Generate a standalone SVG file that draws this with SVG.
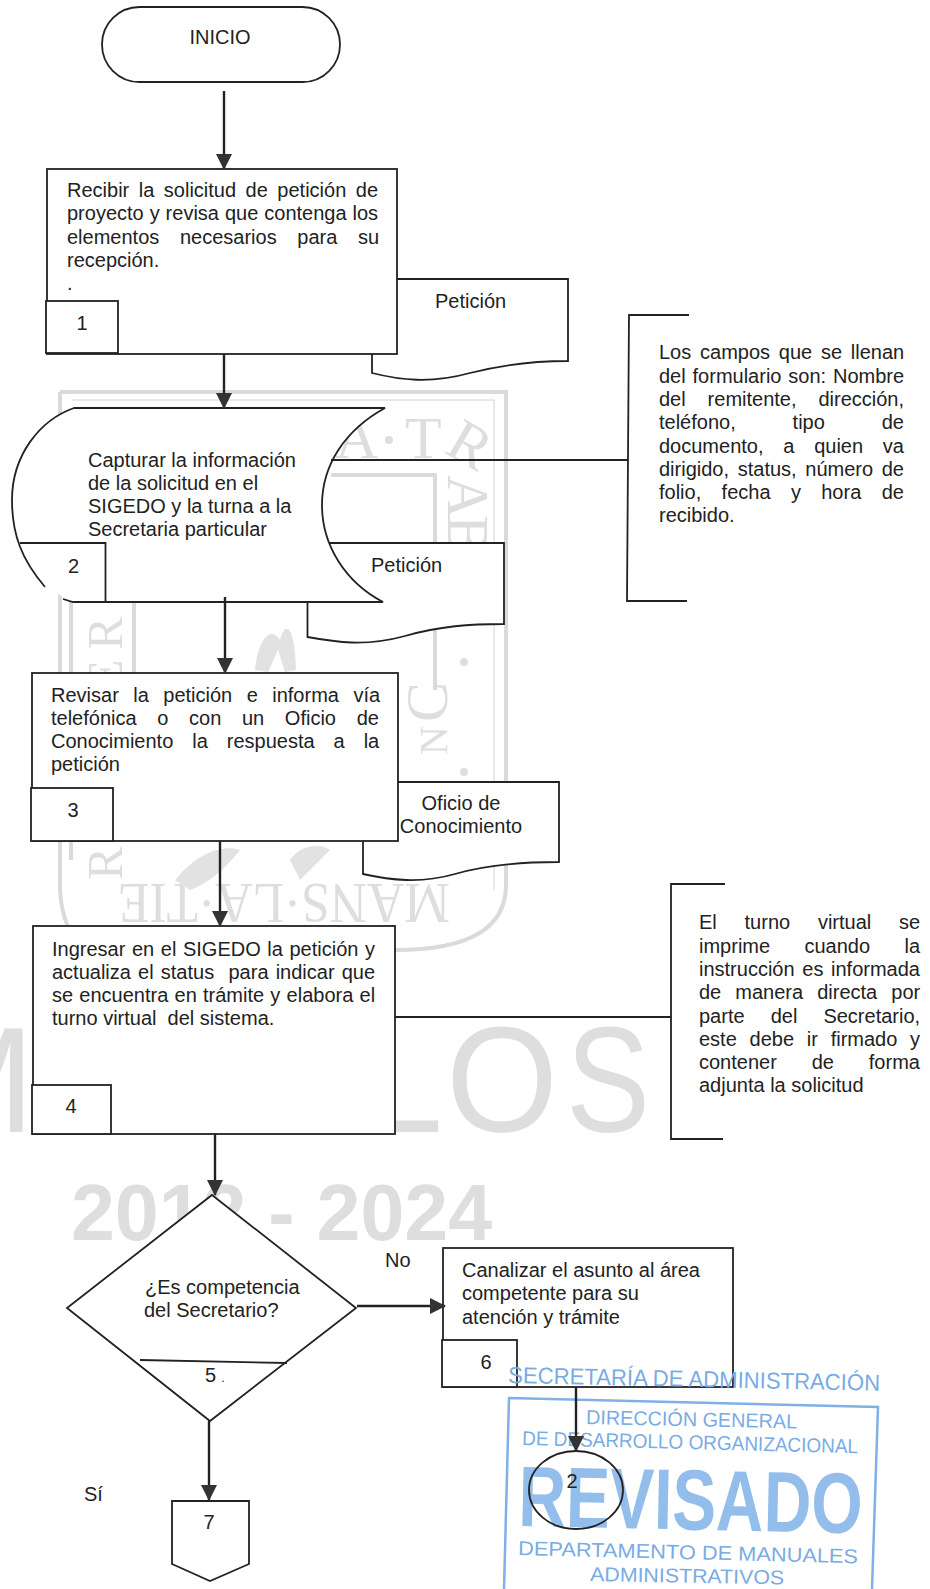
<svg xmlns="http://www.w3.org/2000/svg" width="930" height="1589" viewBox="0 0 930 1589">
<style>
text{font-family:"Liberation Sans",Arial,sans-serif;font-size:20px;fill:#222}
.s{fill:#fff;stroke:#222;stroke-width:1.8}
.n{fill:none;stroke:#222;stroke-width:1.8}
.c{fill:none;stroke:#222;stroke-width:2.4}
.m{text-anchor:middle}
text.wm{fill:#dedede;font-family:"Liberation Serif",serif;font-size:60px}
text.big{fill:#dedede;font-size:150px}
.fr{fill:none;stroke:#dadada;stroke-width:4}
.fp{fill:none;stroke:#e2e2e2;stroke-width:1.5}
text.st{fill:#79ace4;font-size:22px}
.sf{fill:none;stroke:#7fb0e6;stroke-width:2.5}
</style>
<defs>
<marker id="a" markerUnits="userSpaceOnUse" markerWidth="16" markerHeight="18" refX="15" refY="8" orient="auto"><path d="M0,0 L16,8 L0,16 Z" fill="#333"/></marker>
</defs>
<rect width="930" height="1589" fill="#fff"/>
<g id="watermark">
<path class="fr" d="M60,392 H506 V885 Q506,950 395,950"/>
<path class="fr" d="M60,392 V890 Q62,930 85,950"/>
<path class="fp" d="M72,400 H494 V890"/>
<path class="fr" d="M331,475 H435 V690"/>
<path class="fr" d="M134,602 V680"/>
<path class="fr" d="M71,602 V860"/>
<text class="wm" x="335" y="458">A</text>
<text class="wm" x="405" y="458">T</text>
<circle cx="389" cy="440" r="4" fill="#dedede"/>
<text class="wm" transform="translate(443,452) rotate(30)">R</text>
<text class="wm" transform="translate(448,475) rotate(90)">A</text>
<text class="wm" transform="translate(448,515) rotate(90)">B</text>
<text class="wm" transform="translate(445,625) rotate(-90)" style="font-size:40px">A</text>
<circle cx="464" cy="662" r="4" fill="#dedede"/>
<text class="wm" transform="translate(447,722) rotate(-90)">C</text>
<text class="wm" transform="translate(447,755) rotate(-90)" style="font-size:40px">N</text>
<circle cx="464" cy="772" r="4" fill="#dedede"/>
<text class="wm" transform="translate(122,650) rotate(-90)" style="font-size:50px">R</text>
<text class="wm" transform="translate(122,690) rotate(-90)" style="font-size:50px">E</text>
<text class="wm" transform="translate(122,880) rotate(-90)" style="font-size:50px">R</text>
<text class="wm" transform="translate(450,884) rotate(180)" textLength="332" lengthAdjust="spacingAndGlyphs" style="font-size:56px">MANS·LA·TIE</text>
<path fill="#e2e2e2" d="M255,670 C258,640 270,625 280,640 C285,620 295,625 296,670 L285,672 L278,650 L268,672 Z M175,880 C200,850 225,845 240,850 C225,870 205,885 190,890 Z M290,860 C300,845 320,842 330,850 L300,880 Z"/>
<text class="big" x="-90" y="1132" textLength="533" lengthAdjust="spacingAndGlyphs">MOREL</text>
<text class="big" x="446" y="1132" textLength="112" lengthAdjust="spacingAndGlyphs">O</text>
<text class="big" x="566" y="1132" textLength="84" lengthAdjust="spacingAndGlyphs">S</text>
<text class="big" x="71" y="1240" textLength="421" lengthAdjust="spacingAndGlyphs" style="font-size:80px;font-weight:bold">2012 - 2024</text>
</g>
<g id="doc-peticion-1">
<path class="s" d="M372,350 V373 C400,380 430,384 470,373 C505,364 535,361 568,361 V279 H390"/>
<text x="435" y="308">Petición</text>
</g>
<g id="node-inicio">
<rect class="s" x="102" y="7" width="238" height="75" rx="37.5"/>
<text class="m" x="220" y="44">INICIO</text>
</g>
<g id="node-1">
<rect class="s" x="47" y="169" width="350" height="185"/>
<rect class="s" x="46" y="301" width="72" height="52"/>
<text x="67" y="197" word-spacing="3.96">Recibir la solicitud de petición de</text>
<text x="67" y="220" word-spacing="0.4">proyecto y revisa que contenga los</text>
<text x="67" y="243.5" word-spacing="15.1">elementos necesarios para su</text>
<text x="67" y="266.5">recepción.</text>
<text x="67" y="290">.</text>
<text class="m" x="82" y="330">1</text>
</g>
<g id="doc-peticion-2">
<path class="s" d="M307.5,598 V637 C335,642 365,647 405,636 C440,626 470,624 504,624 V543 H320"/>
<text x="371" y="572">Petición</text>
</g>
<g id="node-2">
<path fill="#fff" stroke="none" d="M74,408 H383 C345,430 322,465 322,505 C322,545 345,582 383,602 H73 L45,587 C22,560 12,535 12,500 C12,455 40,420 74,408 Z"/>
<path class="n" d="M45,587 C22,560 12,535 12,500 C12,455 40,420 74,408 H385 C345,430 322,465 322,505 C322,545 345,582 383,602 H73 L63,599"/>
<path class="n" d="M20,543 H105.5 V602"/>
<text x="88" y="467">Capturar la información</text>
<text x="88" y="490">de la solicitud en el</text>
<text x="88" y="513">SIGEDO y la turna a la</text>
<text x="88" y="536">Secretaria particular</text>
<text class="m" x="73.5" y="573">2</text>
</g>
<g id="doc-oficio">
<path class="s" d="M363,838 V874 C390,880 420,884 455,874 C490,864 525,862 559,862 V782 H385"/>
<text class="m" x="461" y="810">Oficio de</text>
<text class="m" x="461" y="833">Conocimiento</text>
</g>
<g id="node-3">
<rect class="s" x="32" y="673" width="366" height="168"/>
<rect class="s" x="31" y="788" width="82" height="53"/>
<text x="51" y="702" word-spacing="8.9">Revisar la petición e informa vía</text>
<text x="51" y="725" word-spacing="15.1">telefónica o con un Oficio de</text>
<text x="51" y="748" word-spacing="13.4">Conocimiento la respuesta a la</text>
<text x="51" y="771">petición</text>
<text class="m" x="73" y="817">3</text>
</g>
<g id="node-4">
<rect class="s" x="33" y="926" width="362" height="208"/>
<rect class="s" x="32" y="1085" width="79" height="49"/>
<text x="52" y="956" word-spacing="1.03">Ingresar en el SIGEDO la petición y</text>
<text x="52" y="979" word-spacing="1.6" xml:space="preserve">actualiza el status  para indicar que</text>
<text x="52" y="1002" word-spacing="0.67">se encuentra en trámite y elabora el</text>
<text x="52" y="1025" xml:space="preserve">turno virtual  del sistema.</text>
<text class="m" x="71" y="1113">4</text>
</g>
<g id="note-1">
<path class="n" d="M689,315 H629 L627,601 H687"/>
<text x="659" y="359" word-spacing="3.2">Los campos que se llenan</text>
<text x="659" y="383" word-spacing="1.3">del formulario son: Nombre</text>
<text x="659" y="406" word-spacing="16.35">del remitente, dirección,</text>
<text x="659" y="429" word-spacing="51.3">teléfono, tipo de</text>
<text x="659" y="453" word-spacing="14.2">documento, a quien va</text>
<text x="659" y="476" word-spacing="3.1">dirigido, status, número de</text>
<text x="659" y="499" word-spacing="14.8">folio, fecha y hora de</text>
<text x="659" y="522">recibido.</text>
</g>
<g id="note-2">
<path class="n" d="M725,884 H671 V1139 H723"/>
<text x="699" y="929" word-spacing="22.2">El turno virtual se</text>
<text x="699" y="953" word-spacing="28.8">imprime cuando la</text>
<text x="699" y="976" word-spacing="2.1">instrucción es informada</text>
<text x="699" y="999" word-spacing="8.5">de manera directa por</text>
<text x="699" y="1023" word-spacing="20.5">parte del Secretario,</text>
<text x="699" y="1046" word-spacing="7.2">este debe ir firmado y</text>
<text x="699" y="1069" word-spacing="29.3">contener de forma</text>
<text x="699" y="1092">adjunta la solicitud</text>
</g>
<g id="node-5">
<path class="s" d="M212,1195 L356,1308 L210,1421 L67,1308 Z"/>
<path class="n" d="M140,1360 L287,1363"/>
<text x="145" y="1294">¿Es competencia</text>
<text x="144" y="1317">del Secretario?</text>
<text x="205" y="1382">5<tspan dx="5" style="font-size:12px">.</tspan></text>
</g>
<g id="node-6">
<rect class="s" x="443" y="1248" width="290" height="139"/>
<rect class="s" x="442" y="1340" width="75" height="47"/>
<text x="462" y="1277">Canalizar el asunto al área</text>
<text x="462" y="1300">competente para su</text>
<text x="462" y="1324">atención y trámite</text>
<text class="m" x="486" y="1369">6</text>
</g>
<g id="stamp">
<path class="sf" d="M504,1589 L509,1398 L878,1407 L872,1589"/>
<text class="st" transform="translate(508,1383) rotate(1.2)" textLength="372" lengthAdjust="spacingAndGlyphs" style="font-size:23px">SECRETARÍA DE ADMINISTRACIÓN</text>
<text class="st" transform="translate(586,1424) rotate(1.2)" textLength="211" lengthAdjust="spacingAndGlyphs" style="font-size:20px">DIRECCIÓN GENERAL</text>
<text class="st" transform="translate(522,1445) rotate(1.4)" textLength="336" lengthAdjust="spacingAndGlyphs" style="font-size:20px">DE DESARROLLO ORGANIZACIONAL</text>
<text class="st" transform="translate(518,1526) rotate(1.2)" textLength="344" lengthAdjust="spacingAndGlyphs" style="font-size:86px;font-weight:bold;fill:#93bdea">REVISADO</text>
<text class="st" transform="translate(518,1555) rotate(1.4)" textLength="340" lengthAdjust="spacingAndGlyphs" style="font-size:20px">DEPARTAMENTO DE MANUALES</text>
<text class="st" transform="translate(590,1581) rotate(1)" textLength="194" lengthAdjust="spacingAndGlyphs" style="font-size:20px">ADMINISTRATIVOS</text>
</g>
<g id="node-connector-2">
<ellipse class="n" cx="576" cy="1490" rx="47" ry="39"/>
<text class="m" x="572" y="1488">2</text>
</g>
<g id="node-7">
<path class="s" d="M172,1501 H249 V1564 L210,1581 L172,1564 Z"/>
<text class="m" x="209" y="1529">7</text>
</g>
<g id="labels">
<text x="385" y="1267">No</text>
<text x="84" y="1501">Sí</text>
</g>
<g id="connectors">
<line class="c" x1="224" y1="91" x2="224" y2="169" marker-end="url(#a)"/>
<line class="c" x1="224" y1="354" x2="224" y2="408" marker-end="url(#a)"/>
<line class="c" x1="225" y1="597" x2="225" y2="673" marker-end="url(#a)"/>
<line class="c" x1="220" y1="841" x2="220" y2="926" marker-end="url(#a)"/>
<line class="c" x1="215" y1="1134" x2="215" y2="1195" marker-end="url(#a)"/>
<line class="c" x1="357" y1="1306" x2="445" y2="1306" marker-end="url(#a)"/>
<line class="c" x1="209" y1="1421" x2="209" y2="1500" marker-end="url(#a)"/>
<line class="c" x1="576" y1="1387" x2="576" y2="1451" marker-end="url(#a)"/>
<line class="n" x1="331" y1="460" x2="628" y2="460"/>
<line class="n" x1="395" y1="1017" x2="671" y2="1017"/>
</g>
</svg>
